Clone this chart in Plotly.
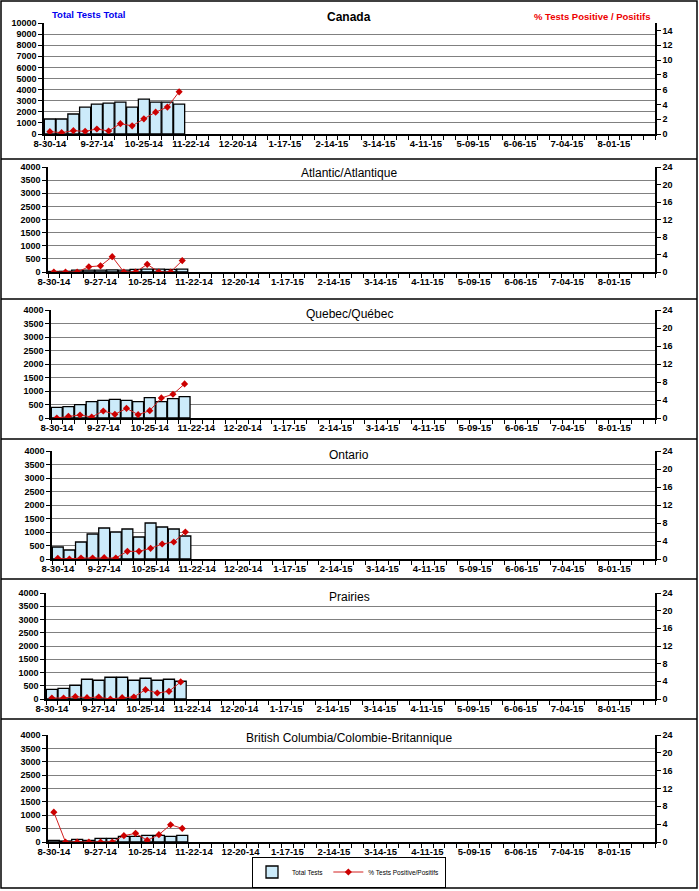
import plotly.graph_objects as go
import pandas as pd

W, H = 699, 891

# ---- categories (weeks) ----
_dates = pd.date_range("2014-08-30", periods=52, freq="7D")
weeks = [d.strftime("%Y-%m-%d") for d in _dates]
week_labels = [f"{d.month}-{d.day:02d}-{d.strftime('%y')}" for d in _dates]
tick_text = [lab if i % 4 == 0 else "" for i, lab in enumerate(week_labels)]

# ---- data (first 12 weeks reported) ----
canada_tests = [1350, 1350, 1800, 2420, 2700, 2790, 2880, 2420, 3150, 2880, 2880, 2700]
canada_pos = [0.32, 0.18, 0.45, 0.36, 0.68, 0.41, 1.4, 1.1, 2.05, 2.95, 3.64, 5.7]
atl_tests = [20, 25, 70, 75, 75, 80, 70, 100, 110, 110, 100, 110]
atl_pos = [0, 0, 0, 1.2, 1.4, 3.5, 0, 0, 1.75, 0, 0, 2.6]
qc_tests = [390, 420, 495, 606, 656, 693, 656, 606, 755, 606, 718, 792]
qc_pos = [0, 0.37, 0.67, 0.22, 1.56, 0.82, 2.15, 0.74, 1.63, 4.46, 5.27, 7.58]
on_tests = [445, 333, 630, 926, 1148, 1000, 1111, 815, 1333, 1185, 1111, 852]
on_pos = [0.15, 0, 0.22, 0.22, 0.3, 0.22, 1.7, 1.7, 2.37, 3.33, 3.78, 6.0]
pr_tests = [366, 404, 518, 745, 707, 821, 821, 707, 783, 707, 745, 669]
pr_pos = [0.23, 0.23, 0.53, 0.3, 0.45, 0, 0.3, 0.45, 2.12, 1.36, 1.74, 3.86]
bc_tests = [62, 37, 99, 62, 137, 137, 211, 211, 248, 248, 211, 248]
bc_pos = [6.7, 0, 0, 0, 0, 0, 1.42, 1.94, 0.37, 1.64, 3.87, 3.05]

region_names = ["Canada", "Atlantic/Atlantique", "Quebec/Québec", "Ontario",
                "Prairies", "British Columbia/Colombie-Britannique"]
region_tests = [canada_tests, atl_tests, qc_tests, on_tests, pr_tests, bc_tests]
region_pos = [canada_pos, atl_pos, qc_pos, on_pos, pr_pos, bc_pos]
left_max = [10000, 4000, 4000, 4000, 4000, 4000]
left_dtick = [1000, 500, 500, 500, 500, 500]
right_max = [15, 24, 24, 24, 24, 24]
right_ticks = [list(range(0, 15, 2))] + [list(range(0, 25, 4))] * 5

# ---- layout geometry (pixels) ----
panel_x0 = [44, 48, 51, 52, 46, 48]
panel_x1 = 655
panel_top = [23, 167, 310, 451, 593, 735]
panel_bot = [134, 272, 418, 559, 699, 842]
title_y = [17, 173, 314, 455, 597, 738]

BAR_FILL = "#CCEBFA"
RED = "#CC0000"
FONT = "Liberation Sans, Arial, sans-serif"

fig = go.Figure()
layout = dict(
    width=W, height=H, margin=dict(l=0, r=0, t=0, b=0, autoexpand=False),
    paper_bgcolor="white", plot_bgcolor="white",
    font=dict(family=FONT, color="black"),
    bargap=0.06,
    showlegend=True,
    legend=dict(orientation="h", x=349 / W, xanchor="center", y=1 - 872 / H, yanchor="middle",
                bordercolor="black", borderwidth=1, bgcolor="white",
                font=dict(size=6.5, family=FONT), itemwidth=30, tracegroupgap=0),
)

for i in range(6):
    xa = f"x{i + 1}" if i else "x"
    yl_n = 2 * i + 1
    yr_n = 2 * i + 2
    yl = f"y{yl_n}" if yl_n > 1 else "y"
    yr = f"y{yr_n}"
    n = len(region_tests[i])
    fig.add_trace(go.Bar(
        x=weeks[:n], y=region_tests[i], xaxis=xa, yaxis=yl,
        marker=dict(color=BAR_FILL, line=dict(color="black", width=1.3)),
        name="Total Tests", showlegend=(i == 0), legendgroup="tests",
    ))
    fig.add_trace(go.Scatter(
        x=weeks[:n], y=region_pos[i], xaxis=xa, yaxis=yr, mode="lines+markers",
        line=dict(color="#D22020", width=1),
        marker=dict(symbol="diamond", size=5.5, color=RED),
        name="% Tests Positive/Positifs", showlegend=(i == 0), legendgroup="pos",
    ))
    xkey = f"xaxis{i + 1}" if i else "xaxis"
    ylkey = f"yaxis{yl_n}" if yl_n > 1 else "yaxis"
    yrkey = f"yaxis{yr_n}"
    layout[xkey] = dict(
        domain=[panel_x0[i] / W, panel_x1 / W], anchor=yl, automargin=False,
        type="category", categoryorder="array", categoryarray=weeks,
        range=[-0.5, len(weeks) - 0.5],
        tickmode="array", tickvals=weeks, ticktext=tick_text, tickson="boundaries",
        ticks="outside", ticklen=4, tickcolor="black", tickwidth=1,
        showline=True, linecolor="black", linewidth=1.5, showgrid=False,
        tickfont=dict(size=9.5, family=FONT, weight="bold", color="black"),
        fixedrange=True, tickangle=0,
    )
    layout[ylkey] = dict(
        domain=[1 - panel_bot[i] / H, 1 - panel_top[i] / H], anchor=xa, automargin=False,
        range=[0, left_max[i]], dtick=left_dtick[i], tick0=0, tickformat="d",
        showgrid=True, gridcolor="#808080", gridwidth=1,
        showline=True, linecolor="black", linewidth=1.5,
        ticks="outside", ticklen=4, tickcolor="black",
        tickfont=dict(size=9, family=FONT, weight="bold", color="black"),
        zeroline=False, fixedrange=True,
    )
    layout[yrkey] = dict(
        overlaying=yl, side="right", anchor=xa, automargin=False,
        range=[0, right_max[i]], tickmode="array", tickvals=right_ticks[i],
        showgrid=False, showline=True, linecolor="black", linewidth=1.5,
        ticks="outside", ticklen=4, tickcolor="black",
        tickfont=dict(size=9, family=FONT, weight="bold", color="black"),
        zeroline=False, fixedrange=True,
    )

annotations = []
for i in range(6):
    annotations.append(dict(
        x=349 / W, y=1 - title_y[i] / H, xref="paper", yref="paper",
        text=(f"<b>{region_names[i]}</b>" if i == 0 else region_names[i]),
        showarrow=False, xanchor="center", yanchor="middle",
        font=dict(size=12, family=FONT, color="black"),
    ))
annotations.append(dict(
    x=50 / W, y=1 - 14 / H, xref="paper", yref="paper", text="<b>Total Tests Total</b>",
    showarrow=False, xanchor="left", yanchor="middle",
    font=dict(size=9.5, family=FONT, color="#0000EE"),
))
annotations.append(dict(
    x=653 / W, y=1 - 16 / H, xref="paper", yref="paper", text="<b>% Tests Positive / Positifs</b>",
    showarrow=False, xanchor="right", yanchor="middle",
    font=dict(size=9.5, family=FONT, color="#EE0000"),
))
layout["annotations"] = annotations

shapes = [dict(type="rect", xref="paper", yref="paper",
               x0=1 / W, x1=697 / W, y0=1 - 888 / H, y1=1 - 1 / H,
               line=dict(color="black", width=1.5))]
for sep in [159, 299, 439, 579, 719]:
    shapes.append(dict(type="line", xref="paper", yref="paper",
                       x0=1 / W, x1=697 / W, y0=1 - sep / H, y1=1 - sep / H,
                       line=dict(color="black", width=1.5)))
layout["shapes"] = shapes

fig.update_layout(**layout)
fig.write_html(
    "out.html",
    config={"displayModeBar": False, "staticPlot": False},
    post_script="document.body.style.margin='0';document.body.style.padding='0';"
                "document.body.style.overflow='hidden';",
)
